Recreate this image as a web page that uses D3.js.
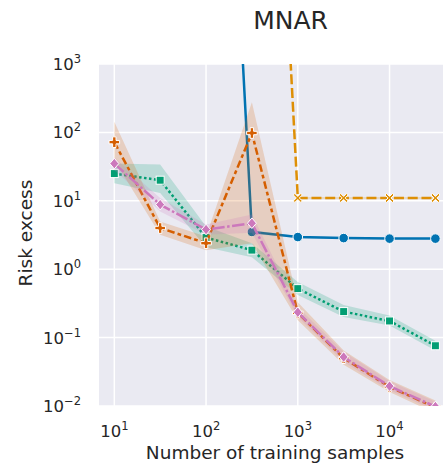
<!DOCTYPE html>
<html>
<head>
<meta charset="utf-8">
<script src="https://cdn.jsdelivr.net/npm/d3@7"></script>
<style>
  html, body { margin: 0; padding: 0; background: #fff; }
  svg { display: block; font-family: "DejaVu Sans", sans-serif; }
</style>
</head>
<body>
<svg id="chart" width="443" height="466"></svg>
<script>
// training sample sizes
const samples = [10, 31.6, 100, 316, 1000, 3162, 10000, 31623];

// risk excess per method (mean, lower, upper of the band)
const blueMean = [1e14, 1e14, 1.3e13, 3.5, 2.95, 2.85, 2.8, 2.8];
const blueLo   = [9e13, 9e13, 1.1e13, 3.3, 2.85, 2.77, 2.73, 2.73];
const blueHi   = [1.1e14, 1.1e14, 1.5e13, 3.7, 3.05, 2.93, 2.87, 2.87];

const orangeMean = [1e15, 1e15, 1e15, 5e13, 11, 11, 11, 11];
const orangeLo   = [9e14, 9e14, 9e14, 4.5e13, 10.6, 10.6, 10.6, 10.6];
const orangeHi   = [1.1e15, 1.1e15, 1.1e15, 5.5e13, 11.4, 11.4, 11.4, 11.4];

const greenMean = [25, 20, 2.9, 1.9, 0.52, 0.24, 0.175, 0.076];
const greenLo   = [18, 13, 2.1, 1.5, 0.42, 0.2, 0.15, 0.065];
const greenHi   = [35, 34, 4.2, 2.4, 0.65, 0.3, 0.21, 0.09];

const redMean = [72, 4.0, 2.4, 98, 0.23, 0.05, 0.019, 0.0095];
const redLo   = [39, 3.2, 1.9, 2.4, 0.18, 0.04, 0.016, 0.0078];
const redHi   = [143, 5.0, 3.0, 275, 0.33, 0.065, 0.024, 0.012];

const pinkMean = [35, 8.8, 3.8, 4.7, 0.235, 0.052, 0.0195, 0.0098];
const pinkLo   = [28, 7, 3.2, 3.4, 0.2, 0.044, 0.017, 0.0085];
const pinkHi   = [43, 11, 4.5, 6.3, 0.28, 0.062, 0.023, 0.0115];

const xTicks = [10, 100, 1000, 10000];
const yTicks = [1e-2, 1e-1, 1, 10, 100, 1000];

const series = [
  { mean: blueMean, lo: blueLo, hi: blueHi, color: "#0173b2", dash: null, marker: "circle" },
  { mean: orangeMean, lo: orangeLo, hi: orangeHi, color: "#de8f05", dash: [4, 1.5], marker: "x" },
  { mean: greenMean, lo: greenLo, hi: greenHi, color: "#029e73", dash: [1, 1], marker: "square" },
  { mean: redMean, lo: redLo, hi: redHi, color: "#d55e00", dash: [3, 1.25, 1.5, 1.25], marker: "plus" },
  { mean: pinkMean, lo: pinkLo, hi: pinkHi, color: "#cc78bc", dash: [5, 1, 1, 1], marker: "diamond" }
];

const svg = d3.select("#chart");
const plotLeft = 99, plotRight = 451, plotTop = 64, plotBottom = 406;
const lw = 2.5;

const x = d3.scaleLog().domain([Math.pow(10, 0.833), Math.pow(10, 4.67)]).range([plotLeft, plotRight]);
const y = d3.scaleLog().domain([1e-2, 1e3]).range([plotBottom, plotTop]);

svg.append("defs").append("clipPath").attr("id", "plotclip")
  .append("rect").attr("x", plotLeft).attr("y", plotTop)
  .attr("width", plotRight - plotLeft).attr("height", plotBottom - plotTop);

svg.append("rect")
  .attr("x", plotLeft).attr("y", plotTop)
  .attr("width", plotRight - plotLeft).attr("height", plotBottom - plotTop)
  .attr("fill", "#eaeaf2");

// grid
const grid = svg.append("g").attr("stroke", "#fff").attr("stroke-width", 1.5);
grid.selectAll("line.gx").data(xTicks).enter().append("line")
  .attr("x1", d => x(d)).attr("x2", d => x(d))
  .attr("y1", plotTop).attr("y2", plotBottom);
grid.selectAll("line.gy").data(yTicks).enter().append("line")
  .attr("x1", plotLeft).attr("x2", plotRight)
  .attr("y1", d => y(d)).attr("y2", d => y(d));

const plot = svg.append("g").attr("clip-path", "url(#plotclip)");

const area = d3.area()
  .x((d, i) => x(samples[i]))
  .y0(d => y(d[0]))
  .y1(d => y(d[1]));

const line = d3.line()
  .x((d, i) => x(samples[i]))
  .y(d => y(d));

function drawMarker(g, type, color) {
  const s = 4.5;
  if (type === "circle") {
    g.append("circle").attr("r", s + 0.3).attr("fill", color).attr("stroke", "#fff").attr("stroke-width", 1);
  } else if (type === "square") {
    g.append("rect").attr("x", -s + 0.5).attr("y", -s + 0.5).attr("width", 2 * s - 1).attr("height", 2 * s - 1)
      .attr("fill", color).attr("stroke", "#fff").attr("stroke-width", 1);
  } else if (type === "diamond") {
    g.append("path").attr("d", `M0,${-s - 0.8}L${s},0L0,${s + 0.8}L${-s},0Z`)
      .attr("fill", color).attr("stroke", "#fff").attr("stroke-width", 1);
  } else if (type === "plus") {
    const a = s + 0.8, b = 1.7;
    g.append("path").attr("d",
      `M${-b},${-a}H${b}V${-b}H${a}V${b}H${b}V${a}H${-b}V${b}H${-a}V${-b}H${-b}Z`)
      .attr("fill", color).attr("stroke", "#fff").attr("stroke-width", 1);
  } else if (type === "x") {
    const a = s, b = 1.5;
    g.append("path").attr("d",
      `M${-a},${-a + b}L${-a + b},${-a}L0,${-b}L${a - b},${-a}L${a},${-a + b}L${b},0L${a},${a - b}L${a - b},${a}L0,${b}L${-a + b},${a}L${-a},${a - b}L${-b},0Z`)
      .attr("fill", color).attr("stroke", "#fff").attr("stroke-width", 1);
  }
}

series.forEach(s => {
  const band = s.lo.map((v, i) => [v, s.hi[i]]);
  plot.append("path")
    .attr("d", area(band))
    .attr("fill", s.color)
    .attr("fill-opacity", 0.2);
  plot.append("path")
    .attr("d", line(s.mean))
    .attr("fill", "none")
    .attr("stroke", s.color)
    .attr("stroke-width", lw)
    .attr("stroke-dasharray", s.dash ? s.dash.map(v => v * lw).join(",") : null);
  s.mean.forEach((v, i) => {
    const g = plot.append("g").attr("transform", `translate(${x(samples[i])},${y(v)})`);
    drawMarker(g, s.marker, s.color);
  });
});

// tick labels
const text = "#262626";
const xl = svg.append("g").attr("fill", text).attr("font-size", 16.5);
xTicks.forEach(t => {
  const tx = xl.append("text").attr("x", x(t)).attr("y", 436.5).attr("text-anchor", "middle");
  tx.append("tspan").text("10");
  tx.append("tspan").attr("dy", -7).attr("font-size", 11.5).text(Math.round(Math.log10(t)));
});
const yl = svg.append("g").attr("fill", text).attr("font-size", 16.5);
yTicks.forEach(t => {
  const e = Math.round(Math.log10(t));
  const tx = yl.append("text").attr("x", 81).attr("y", y(t) + 6).attr("text-anchor", "end");
  tx.append("tspan").text("10");
  tx.append("tspan").attr("dy", -7).attr("font-size", 11.5).text(e < 0 ? "\u2212" + (-e) : e);
});

svg.append("text")
  .attr("x", 275).attr("y", 459)
  .attr("text-anchor", "middle").attr("font-size", 18.5).attr("fill", text)
  .text("Number of training samples");

svg.append("text")
  .attr("transform", "translate(32,233) rotate(-90)")
  .attr("text-anchor", "middle").attr("font-size", 18.5).attr("fill", text)
  .text("Risk excess");

svg.append("text")
  .attr("x", 290.5).attr("y", 29)
  .attr("text-anchor", "middle").attr("font-size", 25).attr("fill", text)
  .text("MNAR");
</script>
</body>
</html>
